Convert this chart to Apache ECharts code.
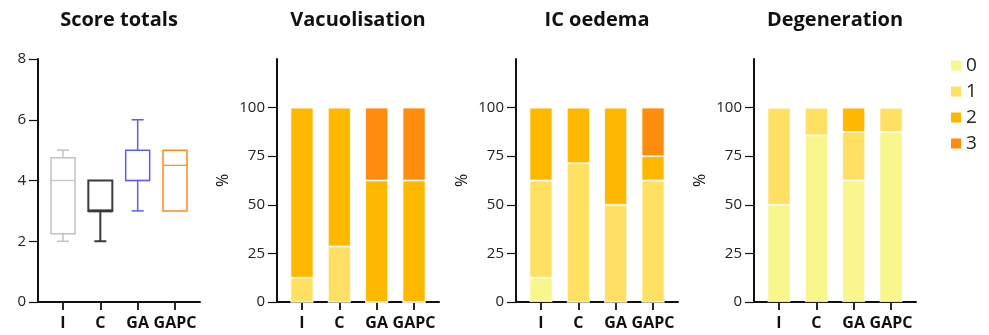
<!DOCTYPE html>
<html>
<head>
<meta charset="utf-8">
<script src="https://cdn.jsdelivr.net/npm/echarts@6/dist/echarts.min.js"></script>
<style>
html,body{margin:0;padding:0;background:#fff;}
#c{width:989px;height:335px;}
</style>
</head>
<body>
<div id="c"></div>
<script>
// ---------- data ----------
const categories = ['I', 'C', 'GA', 'GAPC'];
const panelTitles = ['Score totals', 'Vacuolisation', 'IC oedema', 'Degeneration'];
const scoreLevels = ['0', '1', '2', '3'];

// Score totals box plot (min, Q1, median, Q3, max)
const boxMin = [2, 2, 3, 3];
const boxQ1 = [2.25, 3, 4, 3];
const boxMedian = [4, 3, 4, 4.5];
const boxQ3 = [4.75, 4, 5, 5];
const boxMax = [5, 4, 6, 5];

// % of animals per score (levels 0..3) for each group I, C, GA, GAPC
const vacuolisation0 = [0, 0, 0, 0];
const vacuolisation1 = [12.5, 28.6, 0, 0];
const vacuolisation2 = [87.5, 71.4, 62.5, 62.5];
const vacuolisation3 = [0, 0, 37.5, 37.5];

const oedema0 = [12.5, 0, 0, 0];
const oedema1 = [50, 71.4, 50, 62.5];
const oedema2 = [37.5, 28.6, 50, 12.5];
const oedema3 = [0, 0, 0, 25];

const degeneration0 = [50, 85.7, 62.5, 87.5];
const degeneration1 = [50, 14.3, 25, 12.5];
const degeneration2 = [0, 0, 12.5, 0];
const degeneration3 = [0, 0, 0, 0];

const scoreTicks = [0, 2, 4, 6, 8];
const percentTicks = [0, 25, 50, 75, 100];

// ---------- styles ----------
const levelColors = ['#f8f68c', '#ffe062', '#ffb800', '#ff8c0c'];
const boxColors = ['#c2c2c2', '#3a3a3a', '#5c5cf0', '#ff8a1c'];
const boxLineWidths = [1.5, 2, 1.5, 1.5];
const FONT = '"Open Sans", "Noto Sans", sans-serif';

const panelLeft = [38, 277, 516, 754];
const panelWidth = 162;
const innerPad = 6.3;
const gTop = 59, gHeight = 243;

const stackedPanels = [
  null,
  [vacuolisation0, vacuolisation1, vacuolisation2, vacuolisation3],
  [oedema0, oedema1, oedema2, oedema3],
  [degeneration0, degeneration1, degeneration2, degeneration3]
];

const grid = [], xAxis = [], yAxis = [], series = [], title = [];

for (let p = 0; p < 4; p++) {
  const L = panelLeft[p];
  const isScore = p === 0;
  const yMin = 0, yMax = isScore ? 8 : 125, yInt = isScore ? 2 : 25;
  const ticks = isScore ? scoreTicks : percentTicks;
  // outer grid: visible axis lines, y labels
  grid.push({left: L, top: gTop, width: panelWidth, height: gHeight});
  // inner grid: category positions
  grid.push({left: L + innerPad, top: gTop, width: panelWidth - 2 * innerPad, height: gHeight});
  const og = 2 * p, ig = 2 * p + 1;

  xAxis.push({
    gridIndex: og, type: 'value', min: 0, max: 1,
    axisLine: {show: true, lineStyle: {color: '#111', width: 2}},
    axisTick: {show: false}, axisLabel: {show: false}, splitLine: {show: false}
  });
  xAxis.push({
    gridIndex: ig, type: 'category', data: categories,
    axisLine: {show: false},
    axisTick: {show: true, alignWithLabel: true, interval: 0, length: 8, lineStyle: {color: '#111', width: 1.8}},
    axisLabel: {color: '#111', fontFamily: FONT, fontWeight: 'bold', fontSize: 16, margin: 13, interval: 0},
    splitLine: {show: false}
  });
  yAxis.push({
    gridIndex: og, type: 'value', min: yMin, max: yMax, interval: yInt,
    name: isScore ? '' : '%', nameLocation: 'middle', nameGap: 46, nameRotate: 90,
    nameTextStyle: {color: '#111', fontFamily: FONT, fontSize: 16},
    axisLine: {show: true, lineStyle: {color: '#111', width: 2}},
    axisTick: {show: true, length: 9, lineStyle: {color: '#111', width: 1.2}, customValues: ticks},
    axisLabel: {color: '#222', fontFamily: FONT, fontSize: 15, margin: 12, customValues: ticks},
    splitLine: {show: false}
  });
  yAxis.push({
    gridIndex: ig, type: 'value', min: yMin, max: yMax, interval: yInt, show: false,
    splitLine: {show: false}
  });

  title.push({
    text: panelTitles[p], left: L + panelWidth / 2, top: 10, textAlign: 'center', padding: 0,
    textStyle: {fontFamily: FONT, fontWeight: 'bold', fontSize: 20, color: '#111'}
  });

  if (isScore) {
    const boxData = categories.map((c, i) => [i, boxMin[i], boxQ1[i], boxMedian[i], boxQ3[i], boxMax[i]]);
    series.push({
      type: 'custom', xAxisIndex: ig, yAxisIndex: ig, silent: true,
      encode: {x: 0, y: [1, 2, 3, 4, 5]},
      data: boxData,
      renderItem: function (params, api) {
        const i = api.value(0);
        const x = api.coord([i, 0])[0];
        const yMn = api.coord([i, api.value(1)])[1];
        const yQ1 = api.coord([i, api.value(2)])[1];
        const yMd = api.coord([i, api.value(3)])[1];
        const yQ3 = api.coord([i, api.value(4)])[1];
        const yMx = api.coord([i, api.value(5)])[1];
        const c = boxColors[i], lw = boxLineWidths[i];
        const bw = 24, cw = 12;
        const st = {stroke: c, lineWidth: lw, fill: null};
        const ch = [];
        if (yMx < yQ3 - 0.5) {
          ch.push({type: 'line', shape: {x1: x, y1: yMx, x2: x, y2: yQ3}, style: st});
          ch.push({type: 'line', shape: {x1: x - cw / 2, y1: yMx, x2: x + cw / 2, y2: yMx}, style: st});
        }
        if (yMn > yQ1 + 0.5) {
          ch.push({type: 'line', shape: {x1: x, y1: yQ1, x2: x, y2: yMn}, style: st});
          ch.push({type: 'line', shape: {x1: x - cw / 2, y1: yMn, x2: x + cw / 2, y2: yMn}, style: st});
        }
        ch.push({type: 'rect', shape: {x: x - bw / 2, y: yQ3, width: bw, height: yQ1 - yQ3}, style: {stroke: c, lineWidth: lw, fill: '#fff'}});
        ch.push({type: 'line', shape: {x1: x - bw / 2, y1: yMd, x2: x + bw / 2, y2: yMd}, style: {stroke: c, lineWidth: i === 1 ? 3 : 1.2}});
        return {type: 'group', children: ch};
      }
    });
  } else {
    const levels = stackedPanels[p];
    for (let k = 0; k < 4; k++) {
      series.push({
        type: 'bar', name: scoreLevels[k], stack: 'p' + p,
        xAxisIndex: ig, yAxisIndex: ig, barWidth: 23,
        itemStyle: {color: levelColors[k], borderColor: '#fff', borderWidth: 0.8},
        emphasis: {disabled: true},
        data: levels[k]
      });
    }
  }
}

const chart = echarts.init(document.getElementById('c'), null, {renderer: 'canvas'});
chart.setOption({
  animation: false,
  backgroundColor: '#fff',
  title: title,
  legend: {
    data: scoreLevels, orient: 'vertical', left: 944, top: 51,
    icon: 'rect', itemWidth: 12, itemHeight: 12, itemGap: 7,
    textStyle: {fontFamily: FONT, fontSize: 19, color: '#222', padding: [0, 0, 0, -1]},
    selectedMode: false
  },
  grid: grid, xAxis: xAxis, yAxis: yAxis, series: series
});
</script>
</body>
</html>
